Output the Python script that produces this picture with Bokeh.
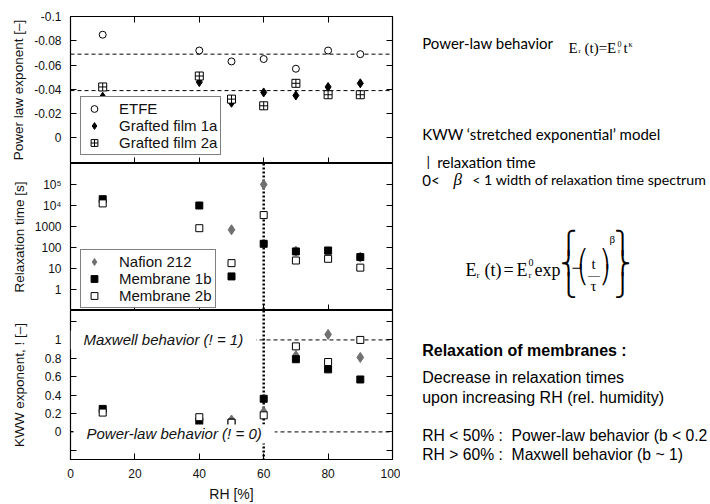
from bokeh.plotting import figure
from bokeh.models import Range1d, LinearAxis, LogAxis, FixedTicker, Span, Label
from bokeh.layouts import column, row
from bokeh.embed import file_html
from bokeh.resources import INLINE

# ---------------- data ----------------
rh = [10, 40, 50, 60, 70, 80, 90]
etfe_kappa = [-0.085, -0.072, -0.063, -0.065, -0.057, -0.072, -0.069]
film1a_kappa = [-0.034, -0.046, -0.029, -0.0375, -0.035, -0.042, -0.045]
film2a_kappa = [-0.042, -0.051, -0.032, -0.0265, -0.045, -0.0356, -0.0356]
etfe_kappa_mean = -0.069
grafted_kappa_mean = -0.039

nafion_rh = [50, 60, 70, 80, 90]
nafion_tau = [700, 1.0e5, 67, 50, 35]
mem1b_tau = [2.0e4, 1.0e4, 4.2, 150, 65, 72, 35]
mem2b_tau = [1.26e4, 830, 18, 3500, 24, 29, 11]

nafion_beta = [0.13, 0.22, 0.83, 1.06, 0.81]
mem1b_beta = [0.25, 0.11, 0.10, 0.36, 0.79, 0.68, 0.57]
mem2b_beta = [0.21, 0.16, 0.10, 0.18, 0.93, 0.76, 1.00]

transition_rh = 60
maxwell_beta = 1.0
powerlaw_beta = 0.0

x_ticks = [0, 20, 40, 60, 80, 100]
kappa_ticks = [-0.1, -0.08, -0.06, -0.04, -0.02, 0.0, 0.02]
kappa_tick_labels = ["-0.1", "-0.08", "-0.06", "-0.04", "-0.02", "0", ""]
tau_ticks = [0.1, 1, 10, 100, 1000, 1e4, 1e5, 1e6]
tau_tick_labels = ["", "1", "10", "100", "1000", "10\u2074", "10\u2075", ""]
beta_ticks = [-0.2, 0.0, 0.2, 0.4, 0.6, 0.8, 1.0, 1.2]
beta_tick_labels = ["", "0", "0.2", "0.4", "0.6", "0.8", "1", ""]

SANS = "Liberation Sans"
SERIF = "Liberation Serif"
MATH = "DejaVu Sans"
GRAY = "#707070"


def style_axis(ax, ticks, overrides=None, labels=True):
    ax.ticker = FixedTicker(ticks=ticks, minor_ticks=[])
    ax.major_tick_in = 6
    ax.major_tick_out = 0
    ax.minor_tick_in = 0
    ax.minor_tick_out = 0
    ax.major_tick_line_color = "black"
    ax.axis_line_color = None
    if labels:
        ax.major_label_text_font = SANS
        ax.major_label_text_font_size = "12px"
        ax.major_label_text_color = "#111111"
        ax.major_label_standoff = 9
        if overrides:
            ax.major_label_overrides = overrides
    else:
        ax.major_label_overrides = {t: "" for t in ticks}
        ax.major_label_text_font_size = "0px"
        ax.major_label_standoff = 0


def style_ylabel(ax, text, standoff):
    ax.axis_label = text
    ax.axis_label_text_font = SANS
    ax.axis_label_text_font_size = "13.5px"
    ax.axis_label_text_font_style = "normal"
    ax.axis_label_text_color = "#111111"
    ax.axis_label_standoff = standoff


xr = Range1d(0, 100)


def make_panel(y_range, y_type, frame_h, mb_top, mb_bottom):
    p = figure(frame_width=322, frame_height=frame_h, x_range=xr, y_range=y_range,
               y_axis_type=y_type, output_backend="svg", toolbar_location=None,
               min_border_left=70, min_border_right=8, min_border_top=mb_top,
               min_border_bottom=mb_bottom, background_fill_color="white",
               border_fill_color="white")
    p.xgrid.visible = False
    p.ygrid.visible = False
    p.outline_line_color = "black"
    p.outline_line_width = 1.2
    p.outline_line_alpha = 1.0
    return p


def style_legend(p, loc):
    lg = p.legend[0]
    lg.location = loc
    lg.border_line_color = "black"
    lg.border_line_width = 1
    lg.background_fill_color = "white"
    lg.background_fill_alpha = 1
    lg.label_text_font = SANS
    lg.label_text_font_size = "15px"
    lg.label_text_color = "#111111"
    lg.label_height = 15
    lg.glyph_height = 17
    lg.glyph_width = 20
    lg.label_standoff = 15
    lg.spacing = 0
    lg.padding = 3
    lg.margin = 0


# ---------------- top panel: power-law exponent ----------------
p1 = make_panel(Range1d(0.021, -0.1), "linear", 147, 16, 0)
style_axis(p1.xaxis[0], x_ticks, labels=False)
ax = LinearAxis()
style_axis(ax, x_ticks, labels=False)
p1.add_layout(ax, "above")
style_axis(p1.yaxis[0], kappa_ticks, dict(zip(kappa_ticks, kappa_tick_labels)))
style_ylabel(p1.yaxis[0], "Power law exponent [\u2013]", 5)
ax = LinearAxis()
style_axis(ax, kappa_ticks, labels=False)
p1.add_layout(ax, "right")

for m in (etfe_kappa_mean, grafted_kappa_mean):
    p1.add_layout(Span(location=m, dimension="width", line_color="black",
                       line_dash="4 3", line_width=1, level="underlay"))

p1.scatter(rh, etfe_kappa, marker="circle", size=7, fill_color="white",
           line_color="black", line_width=1, legend_label="ETFE")
p1.scatter(rh, film1a_kappa, marker="diamond", size=9, fill_color="black",
           line_color="black", legend_label="Grafted film 1a")
p1.scatter(rh, film2a_kappa, marker="square_cross", size=8, fill_color="white",
           line_color="black", line_width=1, legend_label="Grafted film 2a")
style_legend(p1, (10, 8))

# ---------------- middle panel: relaxation time ----------------
p2 = make_panel(Range1d(0.1, 1e6), "log", 147, 0, 0)
style_axis(p2.xaxis[0], x_ticks, labels=False)
style_axis(p2.yaxis[0], tau_ticks, dict(zip(tau_ticks, tau_tick_labels)))
style_ylabel(p2.yaxis[0], "Relaxation time [s]", 5)
ax = LogAxis()
style_axis(ax, tau_ticks, labels=False)
p2.add_layout(ax, "right")
p2.add_layout(Span(location=transition_rh, dimension="height", line_color="black",
                   line_dash="2 2", line_width=2.5, level="underlay"))

p2.scatter(nafion_rh, nafion_tau, marker="diamond", size=10, fill_color=GRAY,
           line_color=GRAY, legend_label="Nafion 212")
p2.scatter(rh, mem1b_tau, marker="square", size=7, fill_color="black",
           line_color="black", legend_label="Membrane 1b")
p2.scatter(rh, mem2b_tau, marker="square", size=7, fill_color="white",
           line_color="black", line_width=1, legend_label="Membrane 2b")
style_legend(p2, (10, 2))

# ---------------- bottom panel: KWW exponent ----------------
p3 = make_panel(Range1d(-0.3, 1.32), "linear", 149, 0, 45)
style_axis(p3.xaxis[0], x_ticks)
p3.xaxis[0].major_label_standoff = 9
p3.xaxis[0].axis_label = "RH [%]"
p3.xaxis[0].axis_label_text_font = SANS
p3.xaxis[0].axis_label_text_font_size = "14px"
p3.xaxis[0].axis_label_text_font_style = "normal"
p3.xaxis[0].axis_label_text_color = "#111111"
p3.xaxis[0].axis_label_standoff = 5
style_axis(p3.yaxis[0], beta_ticks, dict(zip(beta_ticks, beta_tick_labels)))
style_ylabel(p3.yaxis[0], "KWW exponent, ! [\u2013]", 15)
ax = LinearAxis()
style_axis(ax, beta_ticks, labels=False)
p3.add_layout(ax, "right")

p3.add_layout(Span(location=transition_rh, dimension="height", line_color="black",
                   line_dash="2 2", line_width=2.5, level="underlay"))
for b in (maxwell_beta, powerlaw_beta):
    p3.add_layout(Span(location=b, dimension="width", line_color="black",
                       line_dash="4 3", line_width=1, level="underlay"))

p3.scatter(nafion_rh, nafion_beta, marker="diamond", size=10, fill_color=GRAY,
           line_color=GRAY)
p3.scatter(rh, mem1b_beta, marker="square", size=7, fill_color="black",
           line_color="black")
p3.scatter(rh, mem2b_beta, marker="square", size=7, fill_color="white",
           line_color="black", line_width=1)

p3.add_layout(Label(x=0, y=maxwell_beta, text="Maxwell behavior (! = 1)",
                    text_font=SANS, text_font_size="15px", text_font_style="italic",
                    text_baseline="middle", text_color="#111111",
                    background_fill_color="white", padding=(13, 1)))
p3.add_layout(Label(x=0, y=powerlaw_beta, x_offset=3, y_offset=-2,
                    text="Power-law behavior (! = 0)",
                    text_font=SANS, text_font_size="15px", text_font_style="italic",
                    text_baseline="middle", text_color="#111111",
                    background_fill_color="white", padding=(13, 1)))

# ---------------- right-hand notes (page pixel coordinates) ----------------
pt = figure(frame_width=310, frame_height=504, x_range=Range1d(400, 710),
            y_range=Range1d(504, 0), x_axis_type=None, y_axis_type=None,
            output_backend="svg", toolbar_location=None, min_border=0,
            outline_line_color=None, background_fill_color="white",
            border_fill_color="white")
pt.xgrid.visible = False
pt.ygrid.visible = False


def note(x, y, text, font="Lato", size=15, style="normal", baseline="middle", align="left"):
    pt.add_layout(Label(x=x, y=y, text=text, text_font=font, text_font_size=f"{size}px",
                        text_font_style=style, text_baseline=baseline, text_align=align,
                        text_color="black"))


def tex(x, y, text, size, font=SERIF, style="normal", align="left"):
    note(x, y, text, font, size, style=style, baseline="alphabetic", align=align)


note(421.7, 42.7, "Power-law behavior")
# E_r(t) = E_r^0 t^kappa
tex(568, 47.3, "E", 15)
tex(578, 50, "r", 7)
tex(584, 47.3, "(t)=E", 15)
tex(617, 43.5, "0", 8)
tex(617.5, 50, "r", 7)
tex(623, 47.3, "t", 15)
tex(628, 43.5, "\u03ba", 8)

note(421.7, 133.3, "KWW \u2018stretched exponential\u2019 model")
note(426, 161, "|", size=14)
note(436.7, 161, "relaxation time")
note(421.7, 179, "0<")
note(453, 179, "\u03b2", SERIF, 17, style="italic")
note(471.7, 179, "< 1 width of relaxation time spectrum", size=14.2)

# E_r(t) = E_r^0 exp{-(t/tau)^beta}
tex(465, 269, "E", 18)
tex(476, 274.5, "r", 9)
tex(484, 269, "(t)", 18)
tex(503, 269, "=", 18)
tex(516, 269, "E", 18)
tex(528, 262, "0", 10)
tex(528, 274.5, "r", 9)
tex(534, 269, "exp", 18)
tex(560, 242.1, "\u23a7", 22, MATH)
tex(560, 263.4, "\u23a8", 22, MATH)
tex(560, 284.8, "\u23a9", 22, MATH)
tex(571, 267, "\u2212", 18)
tex(578, 257.9, "\u239b", 18, MATH)
tex(578, 274.4, "\u239d", 18, MATH)
tex(593, 263.5, "t", 15, align="center")
tex(593.5, 274, "\u2014", 12, align="center")
tex(593, 285, "\u03c4", 15, align="center")
tex(600, 257.9, "\u239e", 18, MATH)
tex(600, 274.4, "\u23a0", 18, MATH)
tex(609, 238, "\u03b2", 11)
tex(614, 242.1, "\u23ab", 22, MATH)
tex(614, 263.4, "\u23ac", 22, MATH)
tex(614, 284.8, "\u23ad", 22, MATH)

note(421.7, 350, "Relaxation of membranes :", SANS, 16, style="bold")
note(421.7, 377.3, "Decrease in relaxation times", SANS, 16)
note(421.7, 396.7, "upon increasing RH (rel. humidity)", SANS, 16)
note(421.7, 435, "RH < 50% :\u00a0 Power-law behavior (b < 0.2", SANS, 15.7)
note(421.7, 454, "RH > 60% :\u00a0 Maxwell behavior (b ~ 1)", SANS, 15.7)

layout = row(column(p1, p2, p3), pt)

with open("out.html", "w") as f:
    f.write(file_html(layout, INLINE))
